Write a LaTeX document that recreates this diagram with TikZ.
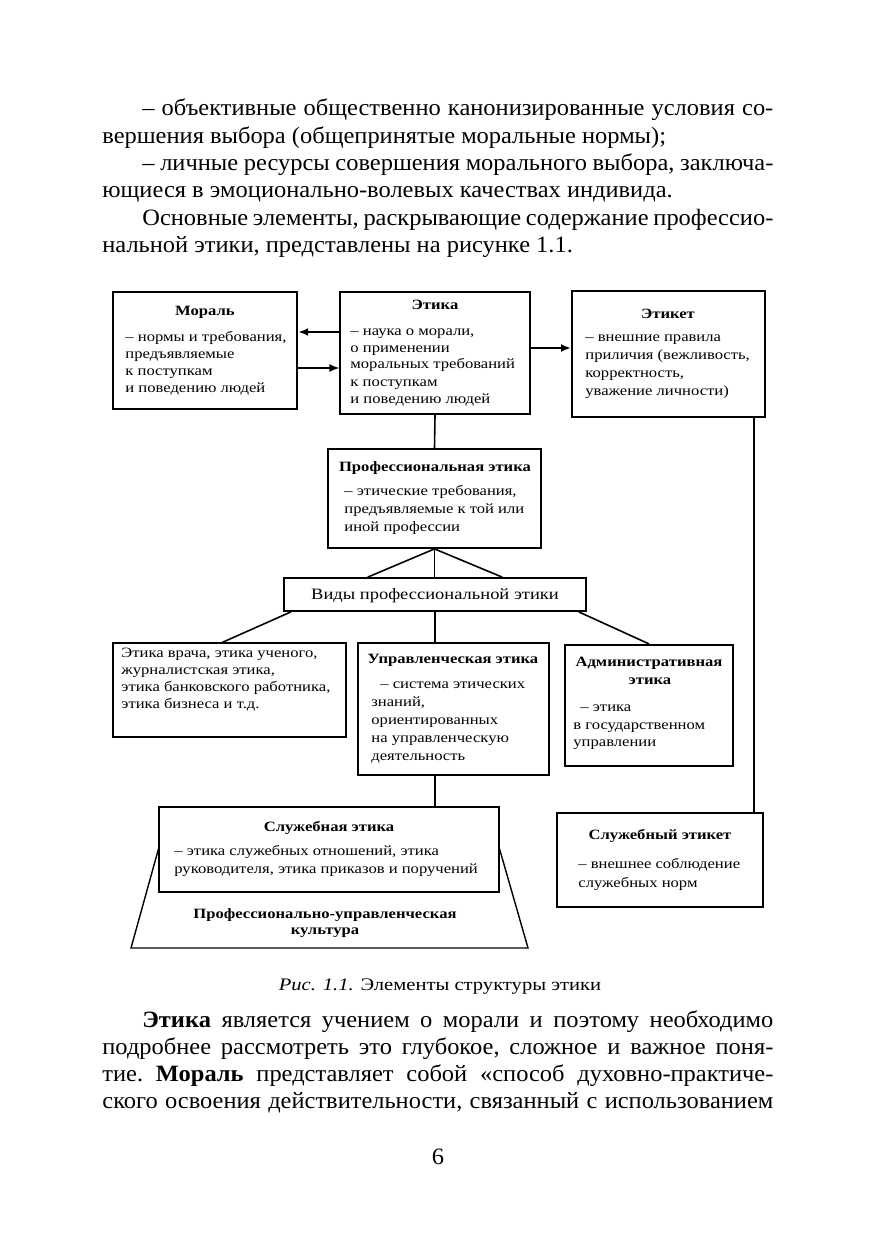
\documentclass[tikz,border=0pt]{standalone}
\usepackage{fontspec}
\setmainfont{Liberation Serif}
\newfontfamily\bodyfont[FakeStretch=1.045]{Liberation Serif}
\newfontfamily\dfont[FakeStretch=1.17]{Liberation Serif}
\usetikzlibrary{arrows.meta,fit,calc}
\newcommand\boxsz{\fontsize{7.1pt}{8.5pt}\selectfont}
\newcommand\vidysz{\fontsize{7.9pt}{10pt}\selectfont}
\newcommand\capsz{\fontsize{8.8pt}{10pt}\selectfont}
\newcommand\bodysz{\fontsize{11.7pt}{13.65pt}\selectfont}
\newcommand\mlines[2]{\vtop{\baselineskip=#1\relax\lineskiplimit=-20pt\lineskip=0pt\hbox{#2}}}
\newcommand\nl{\egroup\hbox\bgroup}
\begin{document}
\begin{tikzpicture}[x=0.5pt,y=-0.5pt,
  box/.style={draw, inner sep=0pt, line width=#1},
  box/.default=0.8pt,
  ttl/.style={anchor=base, inner sep=0pt, font=\dfont\boxsz\bfseries},
  txt/.style={anchor=base west, inner sep=0pt, font=\dfont\boxsz},
  conn/.style={line width=0.8pt},
  arr/.style={-{Latex[length=5pt,width=4pt]}, line width=#1},
  body/.style={anchor=base west, inner sep=0pt, font=\bodyfont\bodysz\frenchspacing}]
\useasboundingbox (0,0) rectangle (875,1241);
\fill[white] (0,0) rectangle (875,1241);

% ---- body text above
\node[body] (par1) at (102,116) {\mlines{13.65pt}{%
\hspace*{20pt}\makebox[315.5pt][s]{– объективные общественно канонизированные условия со-}\nl
вершения выбора (общепринятые моральные нормы);\nl
\hspace*{20pt}\makebox[315.5pt][s]{– личные ресурсы совершения морального выбора, заключа-}\nl
ющиеся в эмоционально-волевых качествах индивида.\nl
\hspace*{20pt}\makebox[315.5pt][s]{Основные элементы, раскрывающие содержание профессио-}\nl
нальной этики, представлены на рисунке 1.1.}};

% ---- boxes
\node[fit={(113,292) (297,409)}, box=1.2pt] (moral) {};
\node[fit={(340,292) (530,414)}, box=0.7pt] (etika) {};
\node[fit={(572,291) (765,417)}, box=1pt] (etiket) {};
\node[fit={(328,449) (541,548)}, box=0.9pt] (prof) {};
\node[fit={(284,578) (586,611)}, box=0.8pt] (vidy) {};
\node[fit={(113,643) (346,737)}, box=0.7pt] (vracha) {};
\node[fit={(358,643) (549,775)}, box=0.7pt] (upr) {};
\node[fit={(565,645) (733,766)}, box=1.1pt] (adm) {};
\node[fit={(159,807) (499,892)}, box=1.1pt] (sluzh) {};
\node[fit={(557,813) (763,907)}, box=0.7pt] (sluzhet) {};

% ---- box texts
\node[ttl] (moralT) at (205,315) {Мораль};
\node[txt] (moralB) at (125,341) {\mlines{8.5pt}{– нормы и требования,\nl предъявляемые\nl к поступкам\nl и поведению людей}};

\node[ttl] (etikaT) at (435,309) {Этика};
\node[txt] (etikaB) at (350,335) {\mlines{8.5pt}{– наука о морали,\nl о применении\nl моральных требований\nl к поступкам\nl и поведению людей}};

\node[ttl] (etiketT) at (668,318) {Этикет};
\node[txt] (etiketB) at (585,341) {\mlines{9pt}{– внешние правила\nl приличия (вежливость,\nl корректность,\nl уважение личности)}};

\node[ttl] (profT) at (435,471.5) {Профессиональная этика};
\node[txt] (profB) at (344,495) {\mlines{9pt}{– этические требования,\nl предъявляемые к той или\nl иной профессии}};

\node[anchor=base, inner sep=0pt, font=\dfont\vidysz] (vidyT) at (435,599.5) {Виды профессиональной этики};

\node[txt] (vrachaB) at (121,657) {\mlines{8.5pt}{Этика врача, этика ученого,\nl журналистская этика,\nl этика банковского работника,\nl этика бизнеса и т.д.}};

\node[ttl] (uprT) at (453,663) {Управленческая этика};
\node[txt] (uprB) at (371,688) {\mlines{9pt}{\hspace*{4.5pt}– система этических\nl знаний,\nl ориентированных\nl на управленческую\nl деятельность}};

\node[ttl] (admT) at (649,666.5) {Административная};
\node[ttl] (admT2) at (650,684.5) {этика};
\node[txt] (admB) at (573,711.5) {\mlines{8.8pt}{\hspace*{3.5pt}– этика\nl в государственном\nl управлении}};

\node[ttl] (sluzhT) at (329,831.5) {Служебная этика};
\node[txt] (sluzhB) at (174,855) {\mlines{9pt}{– этика служебных отношений, этика\nl руководителя, этика приказов и поручений}};

\node[ttl] (sluzhetT) at (660,839) {Служебный этикет};
\node[txt] (sluzhetB) at (578,868) {\mlines{9.5pt}{– внешнее соблюдение\nl служебных норм}};

% ---- trapezoid (culture)
\draw[line width=0.7pt] (159,847) -- (131,948) -- (528,948) -- (499,847);
\node[ttl] (cultT) at (325,918) {Профессионально-управленческая};
\node[ttl] (cultT2) at (325,934) {культура};

% ---- connectors
\coordinate (a1) at ([yshift=10.5pt]etika.west);
\draw[arr=1.3pt] (a1) -- (a1 -| moral.east);
\coordinate (a2) at ([yshift=-8.75pt]moral.east);
\draw[arr=0.6pt] (a2) -- (a2 -| etika.west);
\coordinate (a3) at ([yshift=2.5pt]etika.east);
\draw[arr=1.3pt] (a3) -- (a3 -| etiket.west);

\draw[conn] (etika.south) -- (prof.north);
\draw[conn] (prof.south) -- ($(vidy.north west)!0.278!(vidy.north east)$);
\draw[conn] (prof.south) -- (prof.south |- vidy.north);
\draw[conn] (prof.south) -- ($(vidy.north west)!0.722!(vidy.north east)$);

\draw[conn] ($(vidy.south west)!0.026!(vidy.south east)$) -- ($(vracha.north west)!0.47!(vracha.north east)$);
\draw[conn] (vidy.south) -- (vidy.south |- upr.north);
\draw[conn] ($(vidy.south west)!0.973!(vidy.south east)$) -- (adm.north);
\draw[conn] (vidy.south |- upr.south) -- (vidy.south |- sluzh.north);

\coordinate (e1) at ([xshift=-6pt]etiket.south east);
\draw[line width=0.6pt] (e1) -- (e1 |- sluzhet.north);

% ---- caption
\node[anchor=base, inner sep=0pt, font=\dfont\capsz] (cap) at (440,990) {\textit{Рис. 1.1.} Элементы структуры этики};

% ---- body text below
\node[body] (par2) at (102,1027) {\mlines{13.65pt}{%
\hspace*{20pt}\makebox[315.5pt][s]{\textbf{Этика} является учением о морали и поэтому необходимо}\nl
\makebox[335.5pt][s]{подробнее рассмотреть это глубокое, сложное и важное поня-}\nl
\makebox[335.5pt][s]{тие. \textbf{Мораль} представляет собой «способ духовно-практиче-}\nl
\makebox[335.5pt][s]{ского освоения действительности, связанный с использованием}}};

\node[anchor=base, inner sep=0pt, font=\bodyfont\bodysz] (pnum) at (438,1164) {6};
\end{tikzpicture}
\end{document}
